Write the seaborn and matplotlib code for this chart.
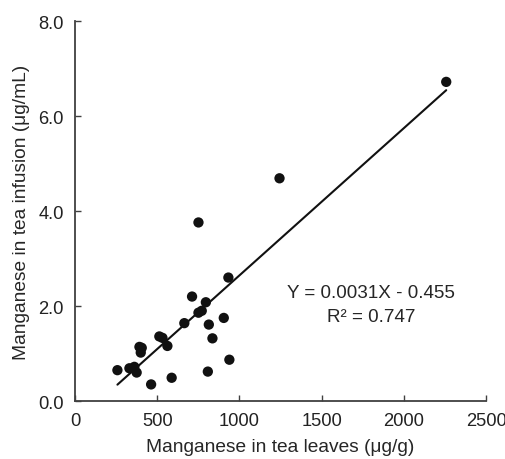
import numpy as np
import pandas as pd
import matplotlib
matplotlib.use('Agg')
import matplotlib.pyplot as plt
import seaborn as sns

sns.set_style('white')
plt.rcParams['font.family'] = ['Liberation Sans', 'DejaVu Sans']
plt.rcParams['xtick.direction'] = 'in'
plt.rcParams['ytick.direction'] = 'in'

# Mn in tea leaves (ug/g) vs Mn in tea infusion (ug/mL)
leaves = [258, 331, 361, 375, 392, 406, 400, 463, 513, 532, 562, 588, 665, 712,
          751, 771, 796, 814, 808, 836, 905, 939, 933, 751, 1244, 2258]
infusion = [0.65, 0.69, 0.72, 0.60, 1.14, 1.12, 1.02, 0.35, 1.36, 1.33, 1.16, 0.49,
            1.64, 2.20, 1.86, 1.90, 2.08, 1.61, 0.62, 1.32, 1.75, 0.87, 2.60, 3.76,
            4.69, 6.72]
slope, intercept = 0.0031, -0.455
r2 = 0.747

df = pd.DataFrame({'leaves': leaves, 'infusion': infusion})

fig, ax = plt.subplots(figsize=(5.05, 4.6), dpi=100)
fig.subplots_adjust(left=0.1485, right=0.9624, top=0.952, bottom=0.126)

sns.scatterplot(data=df, x='leaves', y='infusion', ax=ax, color='#111111',
                s=55, edgecolor='none', zorder=3)

# trend line over the data range
xl = np.array([df['leaves'].min(), df['leaves'].max()])
ax.plot(xl, slope * xl + intercept, color='#111111', lw=1.5, zorder=2)

ax.text(1800, 2.28, f'Y = {slope}X - {abs(intercept)}', ha='center', va='center', fontsize=13.6)
ax.text(1800, 1.79, f'R² = {r2}', ha='center', va='center', fontsize=13.6)

ax.set_xlim(0, 2500)
ax.set_ylim(0, 8)
ax.set_xticks(range(0, 2501, 500))
ax.set_yticks(np.arange(0, 8.1, 2))
ax.set_yticklabels([f'{v:.1f}' for v in np.arange(0, 8.1, 2)])
ax.set_xlabel('Manganese in tea leaves (μg/g)', fontsize=13.8, labelpad=6.5)
ax.set_ylabel('Manganese in tea infusion (μg/mL)', fontsize=13.8, labelpad=6)

for s in ['top', 'right']:
    ax.spines[s].set_visible(False)
for s in ['left', 'bottom']:
    ax.spines[s].set_color('#404040')
    ax.spines[s].set_linewidth(1.3)
ax.tick_params(bottom=True, left=True, direction='in', length=4, width=1, color='#404040',
               labelsize=13.2, labelcolor='#222222', pad=8)

fig.savefig('out.png', dpi=100)
